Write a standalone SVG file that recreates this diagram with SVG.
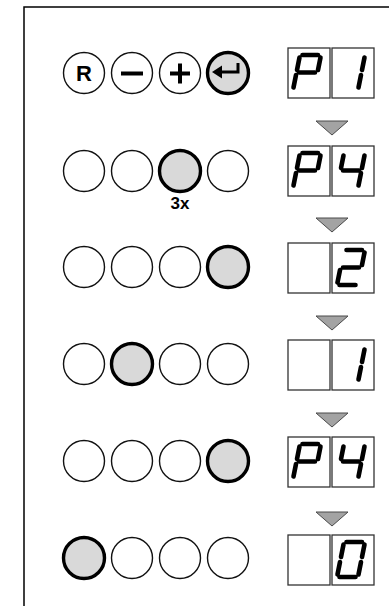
<svg xmlns="http://www.w3.org/2000/svg" xmlns:xlink="http://www.w3.org/1999/xlink" width="389" height="606" viewBox="0 0 389 606">
<style>
.btn{fill:#ffffff;stroke:#111;stroke-width:1.4}
.on{fill:#d9d9d9;stroke:#000;stroke-width:3.4}
.box{fill:#ffffff;stroke:#333;stroke-width:1.3}
.seg{fill:none;stroke:#000;stroke-width:4.6;stroke-linecap:round}
.tri{fill:#a3a3a3;stroke:#4a4a4a;stroke-width:1}
.lbl{font-family:"Liberation Sans",Arial,sans-serif;font-weight:bold;fill:#000;text-anchor:middle}
.ico{stroke:#000;stroke-width:4;fill:none}
</style>
<defs>
<g id="dP" class="seg"><path d="M15.5 7H31M33.5 9.5L31 22M12.5 9.5L10 22M12 24.5H28M9 27L6.5 39.5"/></g>
<g id="d1" class="seg"><path d="M33.5 9.5L31 22M30 27L27.5 39.5"/></g>
<g id="d4" class="seg"><path d="M12.5 9.5L10 22M12 24.5H28M33.5 9.5L31 22M30 27L27.5 39.5"/></g>
<g id="d2" class="seg"><path d="M15.5 7H31M33.5 9.5L31 22M12 24.5H28M9 27L6.5 39.5M8.5 42H24.5"/></g>
<g id="d0" class="seg"><path d="M15.5 7H31M33.5 9.5L31 22M30 27L27.5 39.5M8.5 42H24.5M9 27L6.5 39.5M12.5 9.5L10 22"/></g>
</defs>
<rect width="389" height="606" fill="#ffffff"/>
<path d="M24 606V7H389" fill="none" stroke="#000" stroke-width="1.5"/>

<g id="connectors">
<polygon class="tri" points="316,121 348,121 332,135"/>
<polygon class="tri" points="316,218 348,218 332,232"/>
<polygon class="tri" points="316,316 348,316 332,330"/>
<polygon class="tri" points="316,413 348,413 332,427"/>
<polygon class="tri" points="316,512 348,512 332,526"/>
</g>

<g id="buttons1">
<circle class="btn" cx="84" cy="73" r="20.5"/>
<text class="lbl" x="84" y="81" font-size="22">R</text>
<circle class="btn" cx="132" cy="73" r="20.5"/>
<path class="ico" d="M121 73.5H143"/>
<circle class="btn" cx="180" cy="73" r="20.5"/>
<path class="ico" d="M170 73.5H190M180 63.5V83.5"/>
<circle class="on" cx="228" cy="73" r="20.5"/>
<path d="M220 72H238V63" fill="none" stroke="#000" stroke-width="3"/>
<polygon points="212,72 222,65.5 222,78.5" fill="#000"/>
</g>
<g id="display1">
<rect class="box" x="288" y="48" width="42" height="50"/>
<rect class="box" x="332" y="48" width="42" height="50"/>
<use xlink:href="#dP" x="287" y="48"/>
<use xlink:href="#d1" x="331" y="48"/>
</g>

<g id="buttons2">
<circle class="btn" cx="84" cy="171" r="20.5"/>
<circle class="btn" cx="132" cy="171" r="20.5"/>
<circle class="on" cx="180" cy="171" r="20.5"/>
<circle class="btn" cx="228" cy="171" r="20.5"/>
<text class="lbl" x="180" y="209" font-size="17">3x</text>
</g>
<g id="display2">
<rect class="box" x="288" y="146" width="42" height="50"/>
<rect class="box" x="332" y="146" width="42" height="50"/>
<use xlink:href="#dP" x="287" y="146"/>
<use xlink:href="#d4" x="331" y="146"/>
</g>

<g id="buttons3">
<circle class="btn" cx="84" cy="267" r="20.5"/>
<circle class="btn" cx="132" cy="267" r="20.5"/>
<circle class="btn" cx="180" cy="267" r="20.5"/>
<circle class="on" cx="228" cy="267" r="20.5"/>
</g>
<g id="display3">
<rect class="box" x="288" y="243" width="42" height="50"/>
<rect class="box" x="332" y="243" width="42" height="50"/>
<use xlink:href="#d2" x="331" y="243"/>
</g>

<g id="buttons4">
<circle class="btn" cx="84" cy="364" r="20.5"/>
<circle class="on" cx="132" cy="364" r="20.5"/>
<circle class="btn" cx="180" cy="364" r="20.5"/>
<circle class="btn" cx="228" cy="364" r="20.5"/>
</g>
<g id="display4">
<rect class="box" x="288" y="340" width="42" height="50"/>
<rect class="box" x="332" y="340" width="42" height="50"/>
<use xlink:href="#d1" x="331" y="340"/>
</g>

<g id="buttons5">
<circle class="btn" cx="84" cy="461" r="20.5"/>
<circle class="btn" cx="132" cy="461" r="20.5"/>
<circle class="btn" cx="180" cy="461" r="20.5"/>
<circle class="on" cx="228" cy="461" r="20.5"/>
</g>
<g id="display5">
<rect class="box" x="288" y="437" width="42" height="50"/>
<rect class="box" x="332" y="437" width="42" height="50"/>
<use xlink:href="#dP" x="287" y="437"/>
<use xlink:href="#d4" x="331" y="437"/>
</g>

<g id="buttons6">
<circle class="on" cx="84" cy="558" r="20.5"/>
<circle class="btn" cx="132" cy="558" r="20.5"/>
<circle class="btn" cx="180" cy="558" r="20.5"/>
<circle class="btn" cx="228" cy="558" r="20.5"/>
</g>
<g id="display6">
<rect class="box" x="288" y="535" width="42" height="50"/>
<rect class="box" x="332" y="535" width="42" height="50"/>
<use xlink:href="#d0" x="331" y="535"/>
</g>
</svg>
